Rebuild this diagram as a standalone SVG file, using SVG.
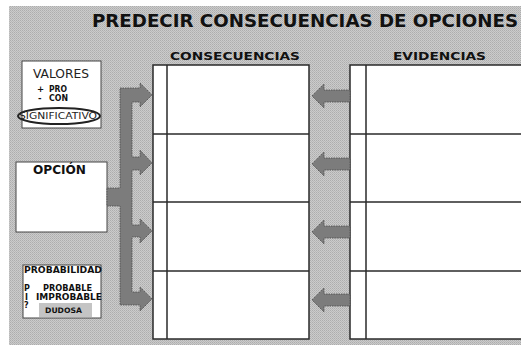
<svg xmlns="http://www.w3.org/2000/svg" width="521" height="345" viewBox="0 0 521 345">
<defs>
<pattern id="dots" width="2" height="2" patternUnits="userSpaceOnUse">
<rect width="2" height="2" fill="#cbcbcb"/>
<rect width="1" height="1" fill="#adadad"/>
<rect x="1" y="1" width="1" height="1" fill="#b8b8b8"/>
</pattern>
</defs>
<style>
.tbl{fill:#fff;stroke:#2a2a2a;stroke-width:1.5}
.ln{stroke:#2a2a2a;stroke-width:1.5}
.box{fill:#fff;stroke:#444;stroke-width:1}
.arr{fill:#7c7c7c;stroke:#4a4a4a;stroke-width:0.8;stroke-dasharray:1.5 1}
.b{font-family:"DejaVu Sans",Verdana,sans-serif;font-weight:bold;fill:#111}
.r{font-family:"DejaVu Sans",Verdana,sans-serif;fill:#222}
</style>
<rect width="521" height="345" fill="#fff"/>
<rect x="9" y="6" width="512" height="339" fill="url(#dots)"/>
<text class="b" x="92" y="27" font-size="17" textLength="426" lengthAdjust="spacingAndGlyphs">PREDECIR CONSECUENCIAS DE OPCIONES</text>
<text class="b" x="170" y="60" font-size="11" textLength="130" lengthAdjust="spacingAndGlyphs">CONSECUENCIAS</text>
<text class="b" x="393" y="60" font-size="11" textLength="93" lengthAdjust="spacingAndGlyphs">EVIDENCIAS</text>
<g id="consecuencias">
<rect class="tbl" x="153" y="65" width="156" height="274"/>
<line class="ln" x1="167" y1="65" x2="167" y2="339"/>
<line class="ln" x1="153" y1="134" x2="309" y2="134"/>
<line class="ln" x1="153" y1="202" x2="309" y2="202"/>
<line class="ln" x1="153" y1="271" x2="309" y2="271"/>
</g>
<g id="evidencias">
<rect class="tbl" x="350" y="65" width="175" height="274"/>
<line class="ln" x1="366" y1="65" x2="366" y2="339"/>
<line class="ln" x1="350" y1="134" x2="525" y2="134"/>
<line class="ln" x1="350" y1="202" x2="525" y2="202"/>
<line class="ln" x1="350" y1="271" x2="525" y2="271"/>
</g>
<g id="valores">
<rect class="box" x="22" y="61" width="79" height="67"/>
<text class="r" x="33" y="78" font-size="12" textLength="56" lengthAdjust="spacingAndGlyphs">VALORES</text>
<text class="b" x="37" y="92" font-size="8.5">+</text>
<text class="b" x="49" y="92" font-size="8.5" textLength="18" lengthAdjust="spacingAndGlyphs">PRO</text>
<text class="b" x="38" y="101" font-size="8.5">-</text>
<text class="b" x="49" y="101" font-size="8.5" textLength="19" lengthAdjust="spacingAndGlyphs">CON</text>
<ellipse cx="59" cy="116" rx="41" ry="8" fill="none" stroke="#222" stroke-width="2"/>
<text class="r" x="19" y="119" font-size="9" fill="#333" textLength="78" lengthAdjust="spacingAndGlyphs">SIGNIFICATIVO</text>
</g>
<g id="opcion">
<rect class="box" x="16" y="162" width="91" height="70" stroke="#222" stroke-width="1.3"/>
<text class="b" x="33" y="174" font-size="12" textLength="53" lengthAdjust="spacingAndGlyphs">OPCIÓN</text>
</g>
<g id="probabilidad">
<rect class="box" x="23" y="265" width="78" height="53"/>
<text class="b" x="24" y="273" font-size="8" textLength="78" lengthAdjust="spacingAndGlyphs">PROBABILIDAD</text>
<text class="b" x="24" y="291" font-size="8">P</text>
<text class="b" x="43" y="291" font-size="8" textLength="49" lengthAdjust="spacingAndGlyphs">PROBABLE</text>
<text class="b" x="25" y="300" font-size="8">I</text>
<text class="b" x="36" y="300" font-size="8" textLength="66" lengthAdjust="spacingAndGlyphs">IMPROBABLE</text>
<text class="b" x="24" y="308" font-size="8">?</text>
<rect x="39" y="303" width="53" height="14" fill="#c4c4c4"/>
<text class="b" x="45" y="313" font-size="7.5" textLength="37" lengthAdjust="spacingAndGlyphs">DUDOSA</text>
</g>
<g id="connectors">
<path class="arr" d="M120,88 H140 V83 L152,95 L140,107 V102 H132 V157 H140 V150 L152,163 L140,175 V170 H132 V225 H140 V219 L152,231 L140,243 V237 H132 V292 H140 V287 L152,299 L140,311 V305 H120 V206 H107 V188 H120 Z"/>
<path class="arr" d="M350,90 H324 V84 L312,96 L324,108 V102 H350 Z"/>
<path class="arr" d="M350,158 H324 V152 L312,164 L324,176 V170 H350 Z"/>
<path class="arr" d="M350,226 H324 V220 L312,232 L324,244 V238 H350 Z"/>
<path class="arr" d="M350,294 H324 V288 L312,300 L324,312 V306 H350 Z"/>
</g>
</svg>
